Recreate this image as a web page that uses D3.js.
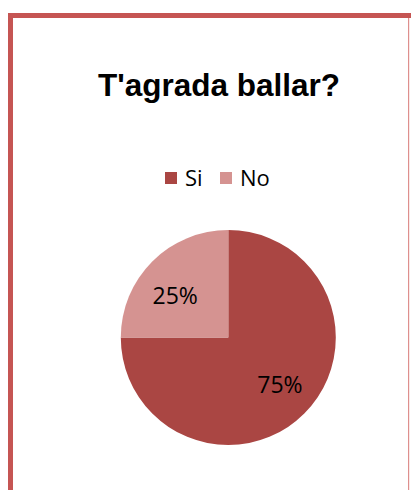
<!DOCTYPE html>
<html>
<head>
<meta charset="utf-8">
<script src="https://cdn.jsdelivr.net/npm/d3@7"></script>
<style>
  html, body { margin: 0; padding: 0; background: #ffffff; }
  svg { display: block; }
</style>
</head>
<body>
<svg id="chart" width="411" height="490"></svg>
<script>
// Survey answers and their shares
const categories = ["Si", "No"];
const shares = [75, 25];
const colors = ["#AA4643", "#D59391"];
const titleText = "T'agrada ballar?";

const svg = d3.select("#chart");
const W = 411, H = 490;

// Frame: heavy top and left edges, thin right edge
svg.append("rect").attr("x", 8).attr("y", 13).attr("width", W - 8).attr("height", 5).attr("fill", "#C55553");
svg.append("rect").attr("x", 8).attr("y", 13).attr("width", 5).attr("height", H - 13).attr("fill", "#C55553");
svg.append("rect").attr("x", 408).attr("y", 18).attr("width", 1.2).attr("height", H - 18).attr("fill", "#DE8F8D");

// Title
svg.append("text")
  .attr("x", 219).attr("y", 96)
  .attr("text-anchor", "middle")
  .attr("font-family", "'Liberation Sans', Arial, sans-serif")
  .attr("font-weight", "bold")
  .attr("font-size", 31.5)
  .attr("fill", "#000")
  .text(titleText);

// Legend
const color = d3.scaleOrdinal().domain(categories).range(colors);
const legendX = d3.scalePoint().domain(categories).range([165, 220]);
const legend = svg.append("g").selectAll("g").data(categories).join("g")
  .attr("transform", d => `translate(${legendX(d)},172)`);
legend.append("rect").attr("width", 12).attr("height", 12).attr("fill", d => color(d));
legend.append("text")
  .attr("x", 20).attr("y", 13.8)
  .attr("font-family", "'Open Sans', sans-serif")
  .attr("font-size", 22)
  .attr("fill", "#000")
  .text(d => d);

// Pie
const cx = 228.3, cy = 337.5, r = 107.5;
const pie = d3.pie().sort(null).value(d => d.value);
const data = categories.map((c, i) => ({ name: c, value: shares[i] }));
const arcs = pie(data);
const arc = d3.arc().innerRadius(0).outerRadius(r);
const labelArc = d3.arc().innerRadius(r * 0.66).outerRadius(r * 0.66);

const g = svg.append("g").attr("transform", `translate(${cx},${cy})`);
g.selectAll("path").data(arcs).join("path")
  .attr("d", arc)
  .attr("fill", d => color(d.data.name));

// Labels sit near the slice centroid; the smaller slice's label is pulled down-left a little
const labelNudge = [[1.5, -2.5], [-3, 8.5]];
g.selectAll("text").data(arcs).join("text")
  .attr("transform", (d, i) => {
    const [x, y] = labelArc.centroid(d);
    return `translate(${x + labelNudge[i][0]},${y + labelNudge[i][1]})`;
  })
  .attr("text-anchor", "middle")
  .attr("dy", "0.36em")
  .attr("font-family", "'Open Sans', sans-serif")
  .attr("font-size", 23)
  .attr("fill", "#000")
  .text(d => d.data.value + "%");
</script>
</body>
</html>
